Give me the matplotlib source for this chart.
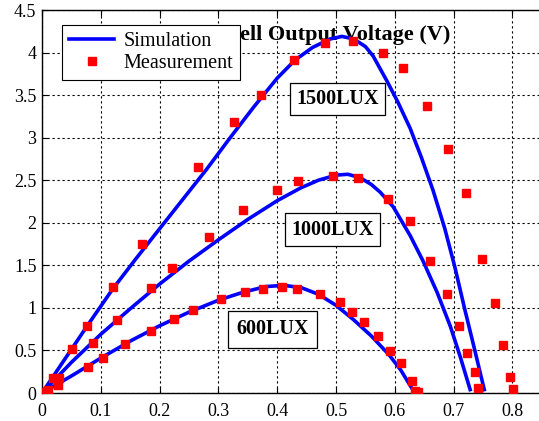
import matplotlib
matplotlib.use("Agg")
import matplotlib.pyplot as plt
import numpy as np

plt.rcParams["font.family"] = ["Liberation Serif", "DejaVu Serif"]

# simulated curves
sim_v_1500 = [0, 0.04, 0.08, 0.12, 0.16, 0.2, 0.24, 0.28, 0.32, 0.36, 0.40, 0.43,
              0.46, 0.49, 0.51, 0.53, 0.55, 0.563, 0.587, 0.605, 0.626, 0.645,
              0.665, 0.685, 0.702, 0.719, 0.736, 0.752]
sim_p_1500 = [0, 0.41, 0.82, 1.22, 1.58, 1.93, 2.28, 2.63, 3.0, 3.36, 3.70, 3.91,
              4.06, 4.16, 4.19, 4.16, 4.07, 3.96, 3.66, 3.42, 3.11, 2.77,
              2.38, 1.93, 1.48, 0.98, 0.50, 0.04]

sim_v_1000 = [0, 0.05, 0.1, 0.15, 0.2, 0.25, 0.3, 0.35, 0.4, 0.44, 0.47, 0.5, 0.52,
              0.541, 0.56, 0.575, 0.597, 0.626, 0.648, 0.672, 0.694, 0.711, 0.728]
sim_p_1000 = [0, 0.36, 0.69, 0.99, 1.28, 1.55, 1.80, 2.04, 2.26, 2.41, 2.50, 2.56, 2.57,
              2.53, 2.45, 2.36, 2.19, 1.85, 1.55, 1.18, 0.79, 0.43, 0.04]

sim_v_600 = [0, 0.05, 0.1, 0.15, 0.2, 0.25, 0.3, 0.34, 0.38, 0.41, 0.44, 0.47,
             0.5, 0.53, 0.56, 0.59, 0.61, 0.632]
sim_p_600 = [0, 0.2, 0.41, 0.61, 0.79, 0.95, 1.09, 1.18, 1.25, 1.265, 1.24, 1.16,
             1.03, 0.86, 0.67, 0.45, 0.27, 0.02]

# measured points
meas_v_1500 = [0, 0.019, 0.051, 0.077, 0.121, 0.17, 0.265, 0.327, 0.372, 0.429, 0.481,
               0.529, 0.58, 0.614, 0.655, 0.69, 0.721, 0.748, 0.77, 0.784, 0.796, 0.801]
meas_p_1500 = [0, 0.18, 0.52, 0.79, 1.24, 1.75, 2.66, 3.18, 3.5, 3.91, 4.11,
               4.14, 4.0, 3.82, 3.37, 2.87, 2.35, 1.57, 1.06, 0.56, 0.19, 0.05]

meas_v_1000 = [0, 0.01, 0.029, 0.087, 0.127, 0.185, 0.221, 0.284, 0.342, 0.399, 0.435,
               0.495, 0.537, 0.588, 0.626, 0.66, 0.689, 0.709, 0.723, 0.736, 0.741]
meas_p_1000 = [0, 0.03, 0.18, 0.59, 0.86, 1.23, 1.47, 1.83, 2.15, 2.39, 2.49,
               2.55, 2.53, 2.28, 2.02, 1.55, 1.16, 0.79, 0.47, 0.25, 0.06]

meas_v_600 = [0, 0.005, 0.027, 0.078, 0.103, 0.141, 0.185, 0.225, 0.256, 0.305, 0.345,
              0.376, 0.408, 0.434, 0.473, 0.507, 0.527, 0.548, 0.572, 0.592, 0.611,
              0.629, 0.634, 0.640]
meas_p_600 = [0, 0.01, 0.09, 0.31, 0.41, 0.58, 0.73, 0.87, 0.98, 1.1, 1.19,
              1.22, 1.25, 1.22, 1.16, 1.07, 0.95, 0.83, 0.67, 0.49, 0.35,
              0.14, 0.02, 0.01]

xticks = [0, 0.1, 0.2, 0.3, 0.4, 0.5, 0.6, 0.7, 0.8]
xtick_labels = ["0", "0.1", "0.2", "0.3", "0.4", "0.5", "0.6", "0.7", "0.8"]
yticks = [0, 0.5, 1, 1.5, 2, 2.5, 3, 3.5, 4, 4.5]
ytick_labels = ["0", "0.5", "1", "1.5", "2", "2.5", "3", "3.5", "4", "4.5"]

fig = plt.figure(figsize=(5.39, 4.21), dpi=100)
ax = fig.add_axes([0.0779, 0.0665, 0.922, 0.9097])

blue = "#0000ff"
red = "#ff0000"
lw = 2.6
ms = 6

ax.plot(sim_v_1500, sim_p_1500, color=blue, lw=lw, label="Simulation", zorder=3)
ax.plot(sim_v_1000, sim_p_1000, color=blue, lw=lw, zorder=3)
ax.plot(sim_v_600, sim_p_600, color=blue, lw=lw, zorder=3)

ax.plot(meas_v_1500, meas_p_1500, "s", color=red, ms=ms, mec=red, label="Measurement", zorder=4)
ax.plot(meas_v_1000, meas_p_1000, "s", color=red, ms=ms, mec=red, zorder=4)
ax.plot(meas_v_600, meas_p_600, "s", color=red, ms=ms, mec=red, zorder=4)

ax.set_xlim(0, 0.845)
ax.set_ylim(0, 4.5)
ax.set_xticks(xticks)
ax.set_xticklabels(xtick_labels)
ax.set_yticks(yticks)
ax.set_yticklabels(ytick_labels)
ax.tick_params(direction="in", length=4, width=0.8, labelsize=13, top=True)
ax.tick_params(axis="x", pad=7)
ax.tick_params(axis="y", pad=4)
ax.grid(True, color="black", linestyle=(0, (2, 2.5)), linewidth=0.8)
ax.spines["right"].set_visible(False)
for s in ["left", "bottom", "top"]:
    ax.spines[s].set_linewidth(1.0)

ax.text(0.694, 4.21, "Cell Output Voltage (V)", ha="right", va="center",
        fontsize=16, fontweight="bold", zorder=2)

box = dict(boxstyle="square,pad=0.32", facecolor="white", edgecolor="black", linewidth=0.9)
ax.text(0.502, 3.455, "1500LUX", ha="center", va="center", fontsize=14.5,
        fontweight="bold", bbox=box, zorder=5)
ax.text(0.494, 1.92, "1000LUX", ha="center", va="center", fontsize=14.5,
        fontweight="bold", bbox=box, zorder=5)
ax.text(0.392, 0.75, "600LUX", ha="center", va="center", fontsize=14.5,
        fontweight="bold", bbox=dict(box, boxstyle="square,pad=0.42"), zorder=5)

leg = ax.legend(loc="upper left", bbox_to_anchor=(0.040, 0.961), borderaxespad=0,
                fontsize=14.5, fancybox=False, framealpha=1, edgecolor="black",
                handlelength=2.25, handletextpad=0.45, numpoints=1, borderpad=0.35,
                labelspacing=0.15)
leg.get_frame().set_linewidth(0.8)
leg.set_zorder(10)

fig.savefig("out.png", dpi=100)
